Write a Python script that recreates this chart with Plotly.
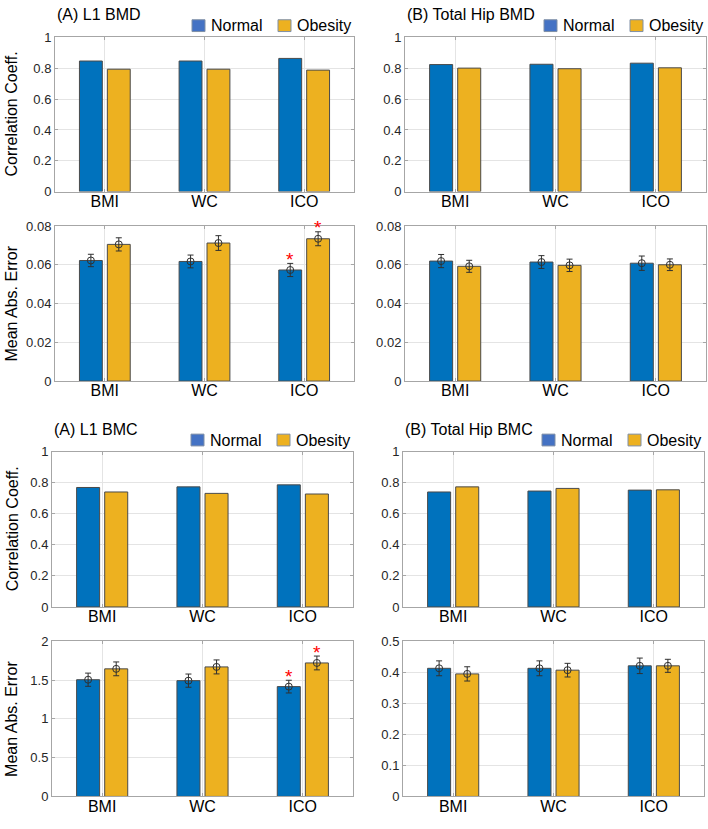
import plotly.graph_objects as go
from plotly.subplots import make_subplots

# categories and values
categories = ["BMI", "WC", "ICO"]
groups = ["Normal", "Obesity"]

l1_bmd_cc_normal = [0.847, 0.847, 0.864]
l1_bmd_cc_obese = [0.794, 0.794, 0.788]
hip_bmd_cc_normal = [0.824, 0.826, 0.833]
hip_bmd_cc_obese = [0.801, 0.797, 0.803]

l1_bmd_mae_normal = [0.0622, 0.0617, 0.0573]
l1_bmd_mae_normal_err = [0.0032, 0.0033, 0.0034]
l1_bmd_mae_obese = [0.0705, 0.0712, 0.0734]
l1_bmd_mae_obese_err = [0.0034, 0.0038, 0.0036]
hip_bmd_mae_normal = [0.0619, 0.0614, 0.0608]
hip_bmd_mae_normal_err = [0.0034, 0.0033, 0.0037]
hip_bmd_mae_obese = [0.0592, 0.0597, 0.0600]
hip_bmd_mae_obese_err = [0.0031, 0.0032, 0.0030]

l1_bmc_cc_normal = [0.770, 0.774, 0.787]
l1_bmc_cc_obese = [0.741, 0.732, 0.728]
hip_bmc_cc_normal = [0.741, 0.747, 0.753]
hip_bmc_cc_obese = [0.774, 0.764, 0.755]

l1_bmc_mae_normal = [1.505, 1.493, 1.416]
l1_bmc_mae_normal_err = [0.085, 0.085, 0.082]
l1_bmc_mae_obese = [1.645, 1.670, 1.721]
l1_bmc_mae_obese_err = [0.089, 0.090, 0.089]
hip_bmc_mae_normal = [0.413, 0.413, 0.421]
hip_bmc_mae_normal_err = [0.024, 0.024, 0.025]
hip_bmc_mae_obese = [0.395, 0.407, 0.421]
hip_bmc_mae_obese_err = [0.023, 0.022, 0.021]

l1_significant = [False, False, True]
hip_significant = [False, False, False]

panel_titles = ["(A) L1 BMD", "(B) Total Hip BMD", "(A) L1 BMC", "(B) Total Hip BMC"]

BLUE = "#0072BD"
YELLOW = "#EDB120"
W, H = 708, 829
FONT = "Liberation Sans, Arial, sans-serif"


def fx(X):
    return X / W


def fy(Y):
    return 1 - Y / H


# (row, col): normal, obese, normal_err, obese_err, significant, y range, dtick
panels = {
    (1, 1): (l1_bmd_cc_normal, l1_bmd_cc_obese, None, None, None, 1, 0.2),
    (1, 2): (hip_bmd_cc_normal, hip_bmd_cc_obese, None, None, None, 1, 0.2),
    (2, 1): (l1_bmd_mae_normal, l1_bmd_mae_obese, l1_bmd_mae_normal_err, l1_bmd_mae_obese_err, l1_significant, 0.08, 0.02),
    (2, 2): (hip_bmd_mae_normal, hip_bmd_mae_obese, hip_bmd_mae_normal_err, hip_bmd_mae_obese_err, hip_significant, 0.08, 0.02),
    (3, 1): (l1_bmc_cc_normal, l1_bmc_cc_obese, None, None, None, 1, 0.2),
    (3, 2): (hip_bmc_cc_normal, hip_bmc_cc_obese, None, None, None, 1, 0.2),
    (4, 1): (l1_bmc_mae_normal, l1_bmc_mae_obese, l1_bmc_mae_normal_err, l1_bmc_mae_obese_err, l1_significant, 2, 0.5),
    (4, 2): (hip_bmc_mae_normal, hip_bmc_mae_obese, hip_bmc_mae_normal_err, hip_bmc_mae_obese_err, hip_significant, 0.5, 0.1),
}

# pixel boxes of the plot areas on the page (left, right) and (top, bottom)
col_px = {(1, 1): (55, 354), (1, 2): (405, 706), (2, 1): (55, 354), (2, 2): (405, 706),
          (3, 1): (52, 353), (3, 2): (403, 704), (4, 1): (52, 353), (4, 2): (403, 704)}
row_px = {1: (31, 188), 2: (223, 381), 3: (453, 611), 4: (646, 804)}

fig = make_subplots(rows=4, cols=2)

xs = [i + 1 for i in range(len(categories))]
half = 0.14  # half distance between paired bars

annotations = []
shapes = []

for (r, c), (nv, ov, ne, oe, sig, ymax, dt) in panels.items():
    n = (r - 1) * 2 + c
    xref = "x" if n == 1 else f"x{n}"
    yref = "y" if n == 1 else f"y{n}"
    for vals, errs, color, side in [(nv, ne, BLUE, -1), (ov, oe, YELLOW, 1)]:
        fig.add_trace(go.Bar(x=xs, y=vals, marker=dict(color=color, line=dict(color="#4a4a4a", width=1)),
                             showlegend=False), row=r, col=c)
        if errs is not None:
            px_ = [x + side * half for x in xs]
            fig.add_trace(go.Scatter(
                x=px_, y=vals, mode="markers",
                marker=dict(symbol="circle-open", size=7, color="#303030", line=dict(width=1)),
                error_y=dict(type="data", array=errs, color="#303030", thickness=1, width=3),
                showlegend=False), row=r, col=c)
            for x, v, e, s in zip(px_, vals, errs, sig):
                if s:
                    annotations.append(dict(x=x, y=v + e, xref=xref, yref=yref, text="*",
                                            showarrow=False, xanchor="center", yanchor="middle",
                                            yshift=4, font=dict(color="red", size=19, family=FONT)))
    l, rr = col_px[(r, c)]
    t, b = row_px[r]
    fig.update_xaxes(domain=[fx(l), fx(rr)], range=[0.5, 3.5], tickvals=xs, ticktext=categories,
                     showgrid=True, gridcolor="#e4e4e4", showline=True, linecolor="#a6a6a6",
                     mirror="ticks", ticks="inside", ticklen=3, tickcolor="#a6a6a6",
                     ticklabelstandoff=-5,
                     tickfont=dict(size=16, color="#000000", family=FONT), zeroline=False,
                     row=r, col=c)
    fig.update_yaxes(domain=[fy(b), fy(t)], range=[0, ymax], dtick=dt,
                     showgrid=True, gridcolor="#e4e4e4", showline=True, linecolor="#a6a6a6",
                     mirror="ticks", ticks="inside", ticklen=3, tickcolor="#a6a6a6",
                     tickfont=dict(size=13, color="#262626", family=FONT), zeroline=False,
                     row=r, col=c)

# panel titles and legends
for i, title in enumerate(panel_titles):
    r = 1 if i < 2 else 3
    c = 1 if i % 2 == 0 else 2
    l, rr = col_px[(r, c)]
    t, _ = row_px[r]
    annotations.append(dict(x=fx(l), y=fy(t - 23), xref="paper", yref="paper", text=title,
                            showarrow=False, xanchor="left", yanchor="middle",
                            font=dict(size=16, color="#000000", family=FONT)))
    ly = t - 12
    for name, fill, lx in [("Normal", "#4472C4", rr - 162), ("Obesity", YELLOW, rr - 76)]:
        shapes.append(dict(type="rect", xref="paper", yref="paper",
                           x0=fx(lx), x1=fx(lx + 13), y0=fy(ly + 6), y1=fy(ly - 6),
                           fillcolor=fill, line=dict(color="#7f8fa6", width=1)))
        annotations.append(dict(x=fx(lx + 17), y=fy(ly), xref="paper", yref="paper", text=name,
                                showarrow=False, xanchor="left", yanchor="middle",
                                font=dict(size=16, color="#000000", family=FONT)))

# y-axis titles on the left column
for r in range(1, 5):
    t, b = row_px[r]
    label = "Correlation Coeff." if r in (1, 3) else "Mean Abs. Error"
    annotations.append(dict(x=fx(12), y=fy((t + b) / 2), xref="paper", yref="paper", text=label,
                            showarrow=False, textangle=-90, xanchor="center", yanchor="middle",
                            font=dict(size=16, color="#000000", family=FONT)))

fig.update_layout(
    width=W, height=H, margin=dict(l=0, r=0, t=0, b=0),
    barmode="group", bargap=0.44, bargroupgap=0.18,
    plot_bgcolor="white", paper_bgcolor="white",
    annotations=annotations, shapes=shapes, showlegend=False,
    font=dict(family=FONT),
)

# drop the default body margin so the 708x829 figure fills the window exactly
fig.write_html("out.html", config={"displayModeBar": False},
               post_script="document.body.style.margin = '0';")
